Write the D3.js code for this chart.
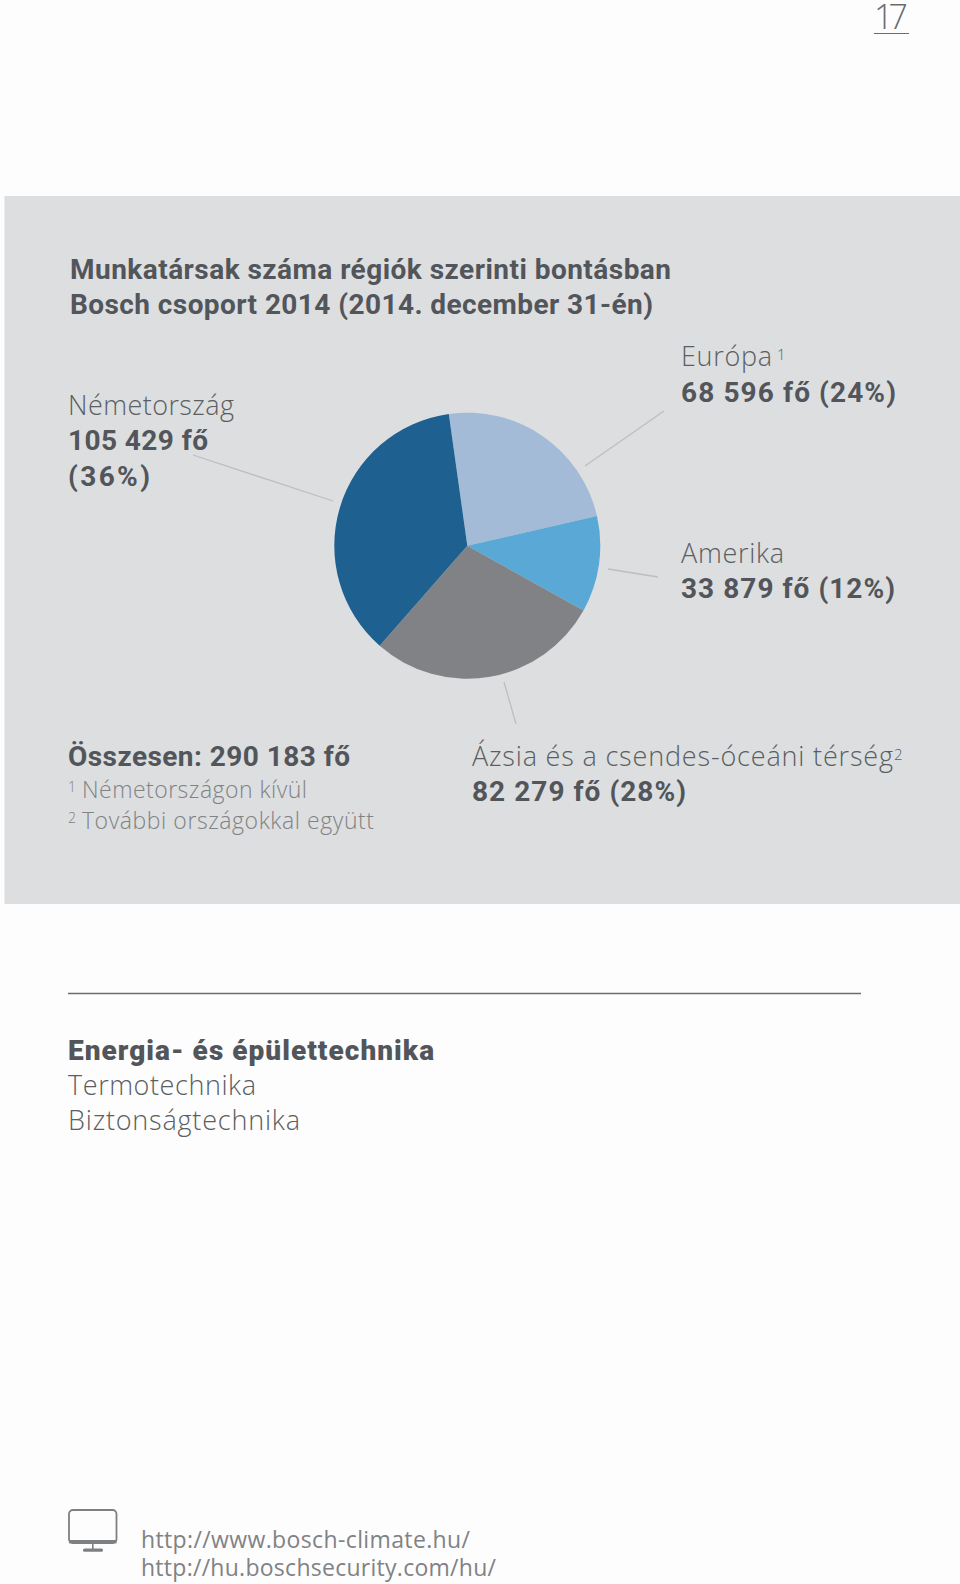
<!DOCTYPE html>
<html>
<head>
<meta charset="utf-8">
<script src="https://cdn.jsdelivr.net/npm/d3@7"></script>
<style>
  html, body { margin: 0; padding: 0; background: #fdfdfd; }
  svg { display: block; }
  text { font-family: "Open Sans", sans-serif; fill: #5b5e62; }
  .b { font-family: Roboto, sans-serif; font-weight: 700; fill: #52555a; }
  .k { font-family: Roboto, sans-serif; font-weight: 900; fill: #52555a; }
  .l { font-weight: 300; }
</style>
</head>
<body>
<div id="chart"></div>
<script>
// values from the picture
const regions = ["Európa", "Amerika", "Ázsia és a csendes-óceáni térség", "Németország"]
const people = [68596, 33879, 82279, 105429]
const peopleLabels = ["68 596 fő (24%)", "33 879 fő (12%)", "82 279 fő (28%)", "105 429 fő"]
const colors = ["#a3bbd6", "#5aa8d6", "#808285", "#1e6090"]
const titleLines = ["Munkatársak száma régiók szerinti bontásban", "Bosch csoport 2014 (2014. december 31-én)"]
const totalLabel = "Összesen: 290 183 fő"
const notes = ["Németországon kívül", "További országokkal együtt"]
const divisionTitle = "Energia- és épülettechnika"
const divisions = ["Termotechnika", "Biztonságtechnika"]
const urls = ["http://www.bosch-climate.hu/", "http://hu.boschsecurity.com/hu/"]

const width = 960
const height = 1584
const cx = 467.3
const cy = 545.7
const radius = 133

const svg = d3.select("#chart").append("svg")
  .attr("width", width)
  .attr("height", height)

// grey panel
svg.append("rect")
  .attr("x", 4.5).attr("y", 196)
  .attr("width", width - 4.5).attr("height", 708)
  .attr("fill", "#dcdee0")

// pie
const pie = d3.pie().sort(null)
  .startAngle(-8 * Math.PI / 180)
  .endAngle((360 - 8) * Math.PI / 180)
const arc = d3.arc().innerRadius(0).outerRadius(radius)

svg.append("g")
  .attr("transform", "translate(" + cx + "," + cy + ")")
  .selectAll("path")
  .data(pie(people))
  .enter()
  .append("path")
  .attr("d", arc)
  .attr("fill", function (d, i) { return colors[i] })

// leader lines
const leaders = [[585, 466, 664, 411], [608, 569, 658, 577], [504, 682, 516, 724], [193, 455, 333, 501]]
svg.append("g").selectAll("line")
  .data(leaders)
  .enter()
  .append("line")
  .attr("x1", function (d) { return d[0] })
  .attr("y1", function (d) { return d[1] })
  .attr("x2", function (d) { return d[2] })
  .attr("y2", function (d) { return d[3] })
  .attr("stroke", "#bcbec0")
  .attr("stroke-width", 1.3)

// w = width the text takes in the picture, the fonts here are narrower
function label(x, y, str, size, cls, w, fill) {
  const t = svg.append("text")
    .attr("x", x).attr("y", y)
    .attr("class", cls || null)
    .style("font-size", size + "px")
    .style("fill", fill || null)
    .text(str)
  if (w) t.attr("textLength", w).attr("lengthAdjust", "spacing")
  return t
}

// page number
label(874, 29, "17", 34, "l", 34, "#6a6d70")
svg.append("line")
  .attr("x1", 874).attr("x2", 909).attr("y1", 33.5).attr("y2", 33.5)
  .attr("stroke", "#6a6d70").attr("stroke-width", 1.2)

// title
label(70, 279, titleLines[0], 28, "b", 601)
label(70, 314, titleLines[1], 28, "b", 583)

// region labels
label(681, 366, regions[0], 27, "l", 91)
label(777, 360, "1", 15, "l")
label(681, 402, peopleLabels[0], 28, "b", 215)

label(681, 563, regions[1], 27, "l", 103)
label(681, 598, peopleLabels[1], 28, "b", 214)

label(472, 766, regions[2], 27, "l", 421)
label(894, 760, "2", 15, "l")
label(472, 801, peopleLabels[2], 28, "b", 214)

label(68, 415, regions[3], 27, "l", 166)
label(68, 450, peopleLabels[3], 28, "b", 140)
label(68, 486, "(36%)", 28, "b", 82)

// total and notes
label(68, 766, totalLabel, 28, "b", 282)
notes.forEach(function (n, i) {
  const y = 798 + i * 31
  label(68, y - 6, String(i + 1), 14, "l", null, "#808285")
  label(82, y, n, 23, "l", [225, 292][i], "#808285")
})

// divider and division list
svg.append("line")
  .attr("x1", 68).attr("x2", 861).attr("y1", 993.5).attr("y2", 993.5)
  .attr("stroke", "#6a6d70").attr("stroke-width", 1.5)

label(68, 1060, divisionTitle, 28, "k", 366)
divisions.forEach(function (d, i) {
  label(68, 1095 + i * 35, d, 27, "l", [188, 232][i])
})

// monitor icon
const icon = svg.append("g").attr("fill", "#7d8083")
icon.append("rect")
  .attr("x", 69).attr("y", 1510).attr("width", 47.5).attr("height", 33).attr("rx", 4)
  .attr("fill", "none").attr("stroke", "#7d8083").attr("stroke-width", 1.8)
icon.append("rect").attr("x", 69).attr("y", 1540).attr("width", 47.5).attr("height", 3.4)
icon.append("rect").attr("x", 92).attr("y", 1543).attr("width", 1.6).attr("height", 6)
icon.append("rect").attr("x", 83).attr("y", 1548.5).attr("width", 20).attr("height", 3.2).attr("rx", 1.5)

urls.forEach(function (u, i) {
  label(141, 1548 + i * 27.5, u, 23, null, [329, 355][i], "#808285")
})
</script>
</body>
</html>
